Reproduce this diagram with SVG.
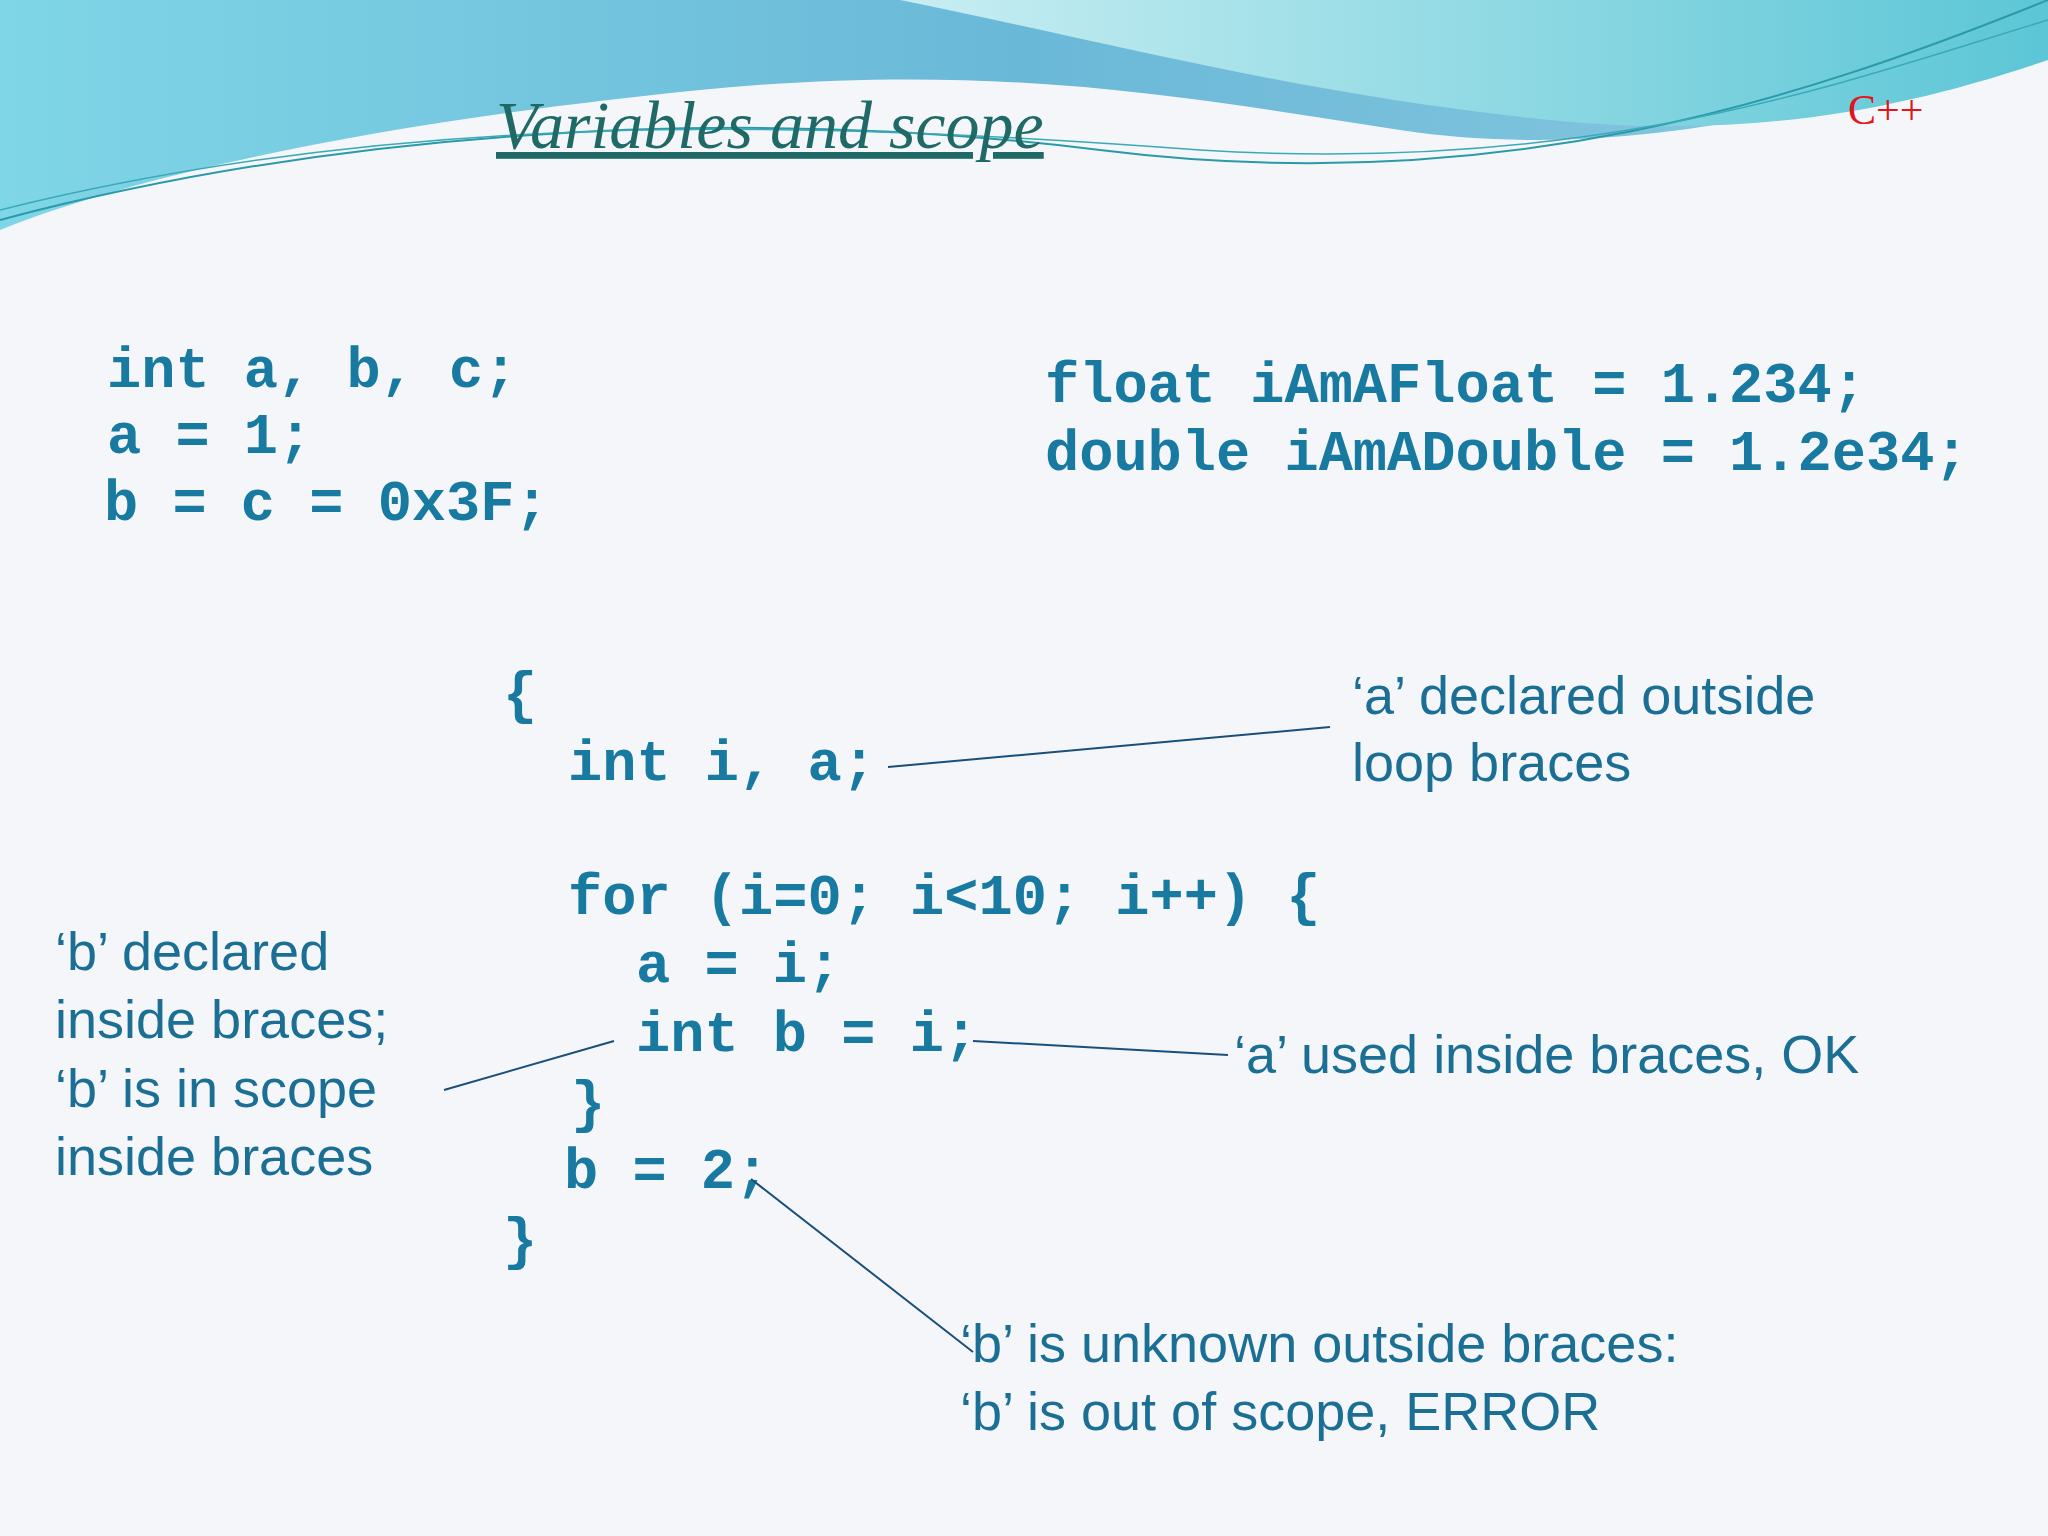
<svg xmlns="http://www.w3.org/2000/svg" width="2048" height="1536" viewBox="0 0 2048 1536">
<defs>
<linearGradient id="g1" x1="0" y1="0" x2="1" y2="0"><stop offset="0" stop-color="#7fd6e6"/><stop offset="0.5" stop-color="#6ab8d8"/><stop offset="1" stop-color="#8ccbe0"/></linearGradient>
<linearGradient id="g2" x1="0" y1="0" x2="1" y2="0"><stop offset="0" stop-color="#c8eef2"/><stop offset="1" stop-color="#5cc6d6"/></linearGradient>
<style>
.code{font-family:"Liberation Mono",monospace;font-weight:bold;font-size:57px;fill:#187aa0}
.note{font-family:"Liberation Sans",Arial,sans-serif;font-size:54px;fill:#1b6f95}
.ln{stroke:#1a4f7a;stroke-width:2;fill:none}
</style>
</defs>
<rect width="2048" height="1536" fill="#f5f6fa"/>
<path d="M0 0 H2048 V40 C1800 120 1600 160 1400 130 C1200 100 1000 60 700 90 C400 120 150 170 0 230 Z" fill="url(#g1)"/>
<path d="M900 0 H2048 V60 C1900 110 1750 140 1550 120 C1300 95 1100 40 900 0 Z" fill="url(#g2)"/>
<path d="M0 220 C300 140 700 100 1100 150 C1500 200 1800 100 2048 0" style="stroke:#2a9aa8;stroke-width:2;fill:none"/>
<path d="M0 210 C400 110 800 120 1200 150 C1600 175 1850 80 2048 20" style="stroke:#3aaab8;stroke-width:1.5;fill:none"/>
<g id="title"><text x="496" y="148" font-family="Liberation Serif,serif" font-style="italic" font-size="68" fill="#1f6a66" text-decoration="underline">Variables and scope</text></g>
<text x="1848" y="124" font-family="Liberation Serif,serif" font-size="42" fill="#e0161b">C++</text>
<g id="code1"><text class="code" x="107" y="387">int a, b, c;</text><text class="code" x="107" y="453">a = 1;</text><text class="code" x="104" y="520">b = c = 0x3F;</text></g>
<g id="code2"><text class="code" x="1045" y="402">float iAmAFloat = 1.234;</text><text class="code" x="1045" y="470">double iAmADouble = 1.2e34;</text></g>
<g id="code3">
<text class="code" x="503" y="712">{</text>
<text class="code" x="568" y="780">int i, a;</text>
<text class="code" x="568" y="914">for (i=0; i&lt;10; i++) {</text>
<text class="code" x="636" y="982">a = i;</text>
<text class="code" x="636" y="1051">int b = i;</text>
<text class="code" x="571" y="1121">}</text>
<text class="code" x="564" y="1188">b = 2;</text>
<text class="code" x="503" y="1258">}</text>
</g>
<g id="n1"><text class="note" x="1352" y="714">‘a’ declared outside</text><text class="note" x="1352" y="781">loop braces</text></g>
<g id="n2"><text class="note" x="55" y="970">‘b’ declared</text><text class="note" x="55" y="1038">inside braces;</text><text class="note" x="55" y="1107">‘b’ is in scope</text><text class="note" x="55" y="1175">inside braces</text></g>
<g id="n3"><text class="note" x="1234" y="1073">‘a’ used inside braces, OK</text></g>
<g id="n4"><text class="note" x="960" y="1362">‘b’ is unknown outside braces:</text><text class="note" x="960" y="1430">‘b’ is out of scope, ERROR</text></g>
<g id="connectors">
<line class="ln" x1="888" y1="767" x2="1330" y2="727"/>
<line class="ln" x1="444" y1="1090" x2="614" y2="1041"/>
<line class="ln" x1="973" y1="1041" x2="1228" y2="1055"/>
<line class="ln" x1="751" y1="1179" x2="973" y2="1352"/>
</g>
</svg>
